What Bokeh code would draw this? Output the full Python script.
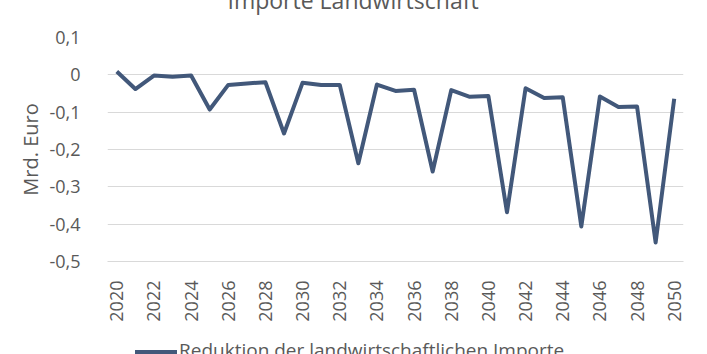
import math
from bokeh.plotting import figure
from bokeh.models import (FixedTicker, CustomJSTickFormatter, ColumnDataSource,
                          Range1d, Div)
from bokeh.layouts import column
from bokeh.embed import file_html
from bokeh.resources import INLINE

years = list(range(2020, 2051))
values = [0.009, -0.038, -0.002, -0.005, -0.002, -0.093, -0.027, -0.023, -0.020,
          -0.157, -0.021, -0.027, -0.027, -0.237, -0.026, -0.043, -0.040, -0.259,
          -0.041, -0.059, -0.057, -0.368, -0.036, -0.062, -0.060, -0.406, -0.058,
          -0.086, -0.085, -0.449, -0.064]
x_ticks = list(range(2020, 2051, 2))
y_ticks = [0.1, 0.0, -0.1, -0.2, -0.3, -0.4, -0.5]
title_text = "Importe Landwirtschaft"
series_name = "Reduktion der landwirtschaftlichen Importe"
y_label = "Mrd. Euro"

FONT = "Open Sans"
GREY = "#595959"
LINE = "#42587A"

TOP_CUT = 45   # part of the chart hidden above the window (title is cut off)

p = figure(width=707, height=335 + TOP_CUT, output_backend="svg",
           toolbar_location=None,
           x_range=Range1d(2019.5, 2050.5), y_range=Range1d(-0.5, 0.1),
           min_border_left=107, min_border_right=24, min_border_top=37 + TOP_CUT,
           min_border_bottom=74, title=title_text)
p.styles = {"margin-top": f"-{TOP_CUT}px"}
p.outline_line_color = None
p.background_fill_color = "white"
p.border_fill_color = "white"

p.title.text_font = FONT
p.title.text_font_size = "23px"
p.title.text_font_style = "normal"
p.title.text_color = GREY
p.title.align = "left"
p.title.offset = 120
p.title.standoff = 44

src = ColumnDataSource(dict(x=years, y=values))
p.line("x", "y", source=src, line_color=LINE, line_width=4, line_join="round")

# axes
p.xaxis.ticker = FixedTicker(ticks=x_ticks)
p.xaxis.major_label_orientation = math.pi / 2
p.xaxis.major_tick_line_color = None
p.xaxis.minor_tick_line_color = None
p.xaxis.axis_line_color = "#d9d9d9"
p.xaxis.axis_line_width = 1
p.xaxis.major_label_text_font = FONT
p.xaxis.major_label_text_font_size = "18px"
p.xaxis.major_label_text_color = GREY
p.xaxis.major_label_standoff = 13

p.yaxis.ticker = FixedTicker(ticks=y_ticks)
p.yaxis.formatter = CustomJSTickFormatter(code="""
var v = Math.round(tick*10)/10;
if (Math.abs(v) < 1e-9) { return '0'; }
return v.toFixed(1).replace('.', ',');
""")
p.yaxis.major_tick_line_color = None
p.yaxis.minor_tick_line_color = None
p.yaxis.axis_line_color = None
p.yaxis.major_label_text_font = FONT
p.yaxis.major_label_text_font_size = "18px"
p.yaxis.major_label_text_color = GREY
p.yaxis.major_label_standoff = 21
p.yaxis.axis_label = y_label
p.yaxis.axis_label_text_font = FONT
p.yaxis.axis_label_text_font_size = "20px"
p.yaxis.axis_label_text_font_style = "normal"
p.yaxis.axis_label_text_color = GREY
p.yaxis.axis_label_standoff = 2

p.xgrid.grid_line_color = None
p.ygrid.grid_line_color = "#d9d9d9"
p.ygrid.grid_line_width = 1

legend_html = (
    f'<div style="font-family:\'{FONT}\';font-size:19px;color:{GREY};'
    'white-space:nowrap;padding-left:135px;padding-top:5px;line-height:20px;'
    'height:19px;overflow:hidden;">'
    f'<span style="display:inline-block;width:42px;height:4px;background:{LINE};'
    'vertical-align:middle;margin-right:2px;"></span>'
    f'{series_name}</div>'
)
legend_div = Div(text=legend_html, width=707, height=19,
                 styles={"overflow": "hidden", "margin": "0", "padding": "0"})

layout = column(p, legend_div, spacing=0)

open("out.html", "w").write(file_html(layout, INLINE))
